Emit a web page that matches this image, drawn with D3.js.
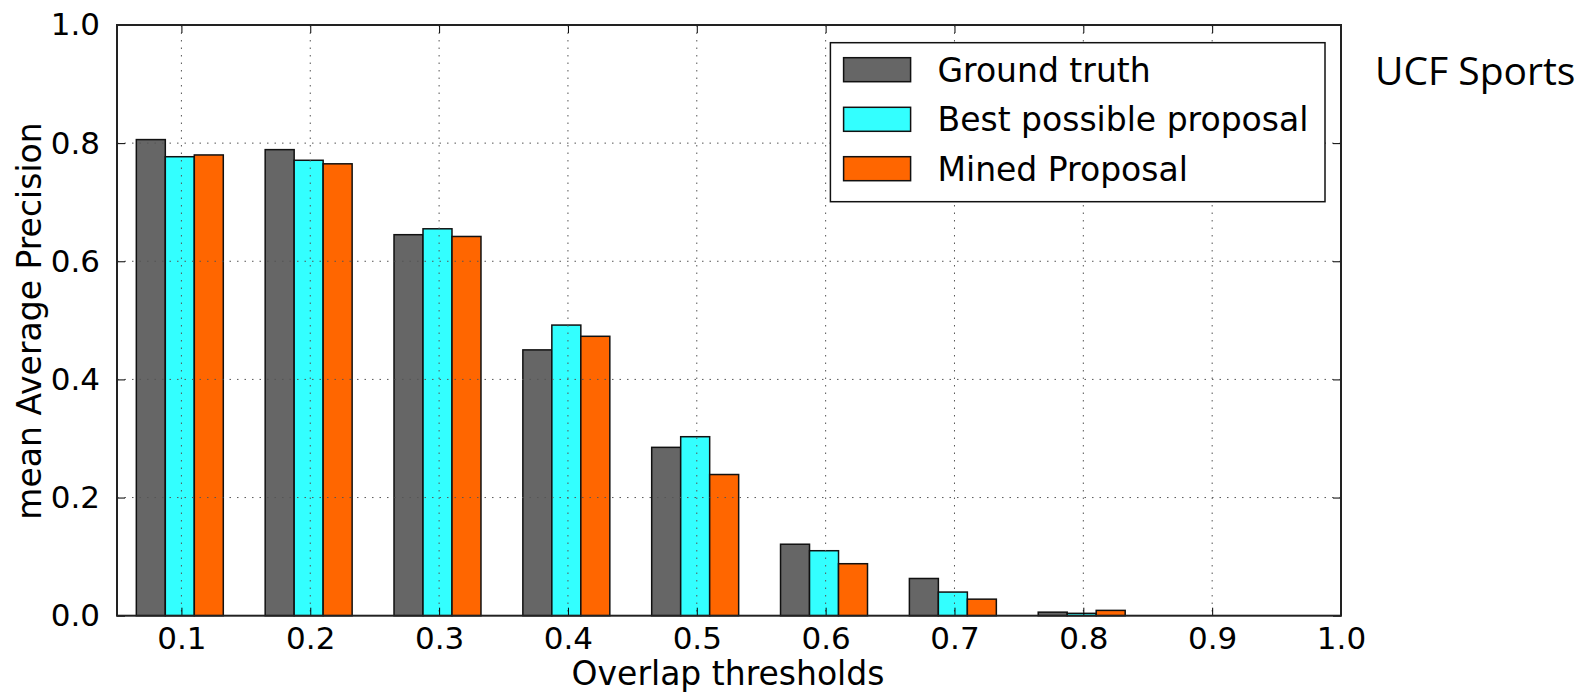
<!DOCTYPE html>
<html>
<head>
<meta charset="utf-8">
<script src="https://cdn.jsdelivr.net/npm/d3@7"></script>
<style>
  body { margin: 0; background: #fff; }
  text { font-family: "DejaVu Sans", sans-serif; fill: #000; }
</style>
</head>
<body>
<div id="main"></div>
<script>

var width = 1591,
    height = 695;

// data
var thresholds = [0.1, 0.2, 0.3, 0.4, 0.5, 0.6, 0.7, 0.8, 0.9, 1.0];
var groundTruth = [0.806, 0.789, 0.645, 0.450, 0.285, 0.121, 0.063, 0.006, 0, 0];
var bestProposal = [0.777, 0.771, 0.655, 0.492, 0.303, 0.110, 0.040, 0.004, 0, 0];
var minedProposal = [0.780, 0.765, 0.642, 0.473, 0.239, 0.088, 0.028, 0.009, 0, 0];
var seriesNames = ["Ground truth", "Best possible proposal", "Mined Proposal"];
var seriesColors = ["#666666", "#33ffff", "#ff6600"];
var yTicks = [0.0, 0.2, 0.4, 0.6, 0.8, 1.0];

var barOffset = [-0.035, -0.0125, 0.01],
    barWidth = 0.0225;

// plot box (note: "top" is taken by window.top)
var pLeft = 117, pRight = 1341, pTop = 25, pBottom = 615.7;

var svg = d3.select("#main").append("svg")
    .attr("width", width)
    .attr("height", height);

var x = d3.scaleLinear().domain([0.05, 1.0]).range([pLeft, pRight]);
var y = d3.scaleLinear().domain([0, 1]).range([pBottom, pTop]);

var series = [groundTruth, bestProposal, minedProposal];

// bars
series.forEach(function(vals, s) {
    svg.append("g").selectAll("rect")
        .data(vals)
        .enter().append("rect")
        .attr("x", function(d, i) { return x(thresholds[i] + barOffset[s]); })
        .attr("width", x(barWidth) - x(0))
        .attr("y", function(d) { return y(d); })
        .attr("height", function(d) { return y(0) - y(d); })
        .attr("fill", seriesColors[s])
        .attr("stroke", "#111")
        .attr("stroke-width", 1.5);
});

// grid on top of bars (classic matplotlib)
var grid = svg.append("g").attr("stroke", "#555").attr("stroke-width", 1)
    .attr("stroke-dasharray", "1.5,6");
grid.selectAll(".vg").data(thresholds.slice(0, 9))
    .enter().append("line")
    .attr("x1", function(d) { return x(d); })
    .attr("x2", function(d) { return x(d); })
    .attr("y1", pTop).attr("y2", pBottom);
grid.selectAll(".hg").data(yTicks.slice(1, 5))
    .enter().append("line")
    .attr("x1", pLeft).attr("x2", pRight)
    .attr("y1", function(d) { return y(d); })
    .attr("y2", function(d) { return y(d); });

// axes with inward ticks on all four sides
var fmt = d3.format(".1f");
svg.append("g")
    .attr("transform", `translate(0,${pBottom})`)
    .call(d3.axisBottom(x).tickValues(thresholds).tickFormat(fmt).tickSize(-8).tickPadding(11));
svg.append("g")
    .attr("transform", `translate(0,${pTop})`)
    .call(d3.axisTop(x).tickValues(thresholds).tickFormat("").tickSize(-8));
svg.append("g")
    .attr("transform", `translate(${pLeft},0)`)
    .call(d3.axisLeft(y).tickValues(yTicks).tickFormat(fmt).tickSize(-8).tickPadding(17));
svg.append("g")
    .attr("transform", `translate(${pRight},0)`)
    .call(d3.axisRight(y).tickValues(yTicks).tickFormat("").tickSize(-8));

svg.selectAll(".domain").remove();
svg.selectAll(".tick line").attr("stroke", "#000").attr("stroke-width", 1);
svg.selectAll(".tick text")
    .style("font-family", "DejaVu Sans")
    .style("font-size", "31px")
    .attr("fill", "#000");

// frame
svg.append("rect")
    .attr("x", pLeft).attr("y", pTop)
    .attr("width", pRight - pLeft).attr("height", pBottom - pTop)
    .attr("fill", "none")
    .attr("stroke", "#222")
    .attr("stroke-width", 2);

// axis labels
svg.append("text")
    .attr("x", 728).attr("y", 685)
    .attr("text-anchor", "middle")
    .style("font-size", "33px")
    .text("Overlap thresholds");

svg.append("text")
    .attr("transform", "translate(41,321) rotate(-90)")
    .attr("text-anchor", "middle")
    .style("font-size", "33px")
    .text("mean Average Precision");

// legend
var lg = svg.append("g");
lg.append("rect")
    .attr("x", 830.4).attr("y", 42.7)
    .attr("width", 494.6).attr("height", 159)
    .attr("fill", "#fff")
    .attr("stroke", "#111")
    .attr("stroke-width", 1.5);

var rows = [57.7, 107.3, 156.7];
seriesNames.forEach(function(name, s) {
    lg.append("rect")
        .attr("x", 843.6).attr("y", rows[s])
        .attr("width", 67).attr("height", 24)
        .attr("fill", seriesColors[s])
        .attr("stroke", "#111")
        .attr("stroke-width", 1.5);
    lg.append("text")
        .attr("x", 937.5).attr("y", rows[s] + 24)
        .style("font-size", "33px")
        .text(name);
});

// dataset caption
svg.append("text")
    .attr("x", 1375).attr("y", 85)
    .style("font-family", "'Open Sans', 'Noto Sans', sans-serif")
    .style("font-size", "39px")
    .text("UCF Sports");

</script>
</body>
</html>
